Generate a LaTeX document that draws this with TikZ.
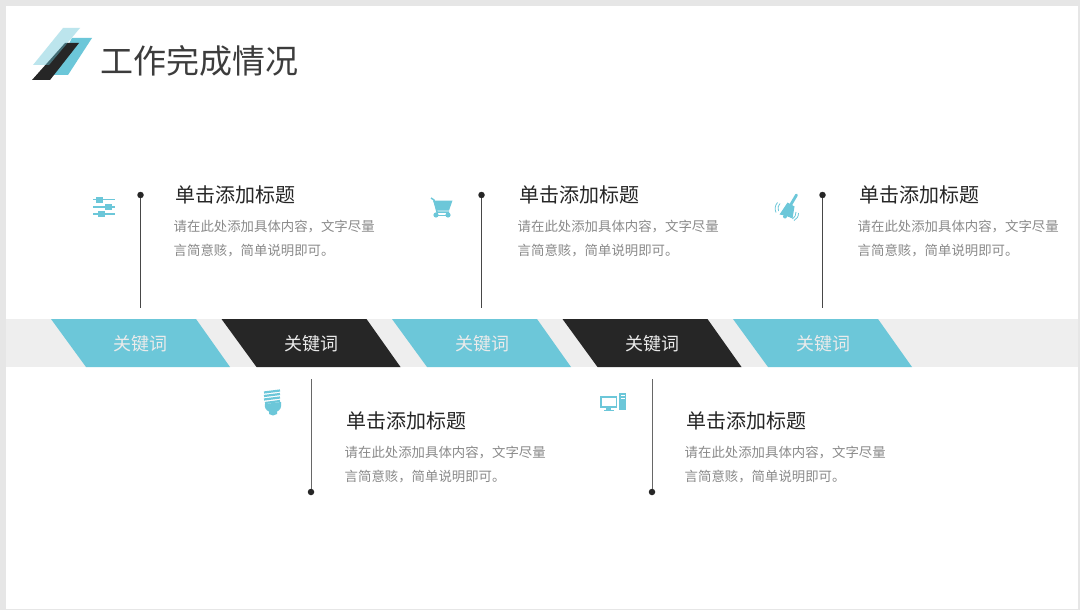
\documentclass[tikz,border=0pt]{standalone}
\usepackage{fontspec}
\setmainfont{Noto Sans CJK SC}
\definecolor{teal}{HTML}{6CC7D9}
\definecolor{ink}{HTML}{262626}
\definecolor{band}{HTML}{EEEEEE}
\definecolor{frame}{HTML}{E6E6E6}
\definecolor{bodygray}{HTML}{8A8A8A}
\begin{document}
\begin{tikzpicture}[x=1pt,y=-1pt,
        vertex/.style={circle,fill=ink,minimum size=6.5pt,inner sep=0pt},
        stem/.style={draw=ink!85,line width=0.9pt},
        keyword/.style={text=white!92!black,font=\fontsize{18}{20}\selectfont},
        heading/.style={anchor=west,text=ink,inner sep=0pt,font=\fontsize{20}{24}\selectfont},
        blurb/.style={anchor=north west,align=left,text=bodygray,inner sep=0pt,font=\fontsize{13.4}{24}\selectfont},
        icon/.style={fill=teal,draw=none}]
    \useasboundingbox (0,0) rectangle (1080,610);

    % Page
    \fill[frame] (0,0) rectangle (1080,610);
    \fill[white] (6,6) rectangle (1078,609);

    % Logo
    \fill[teal] (72,38) -- (92,38) -- (68,75) -- (53,75) -- cycle;
    \fill[ink] (65,43) -- (79,43) -- (50,80) -- (32,80) -- cycle;
    \fill[teal,opacity=0.45] (63,28) -- (80,28) -- (49,65) -- (33,65) -- cycle;
    \node[anchor=west,text=ink!90,inner sep=0pt,font=\fontsize{33}{36}\selectfont] (title) at (100,61) {工作完成情况};

    % Band
    \fill[band] (6,319) rectangle (1078,367);
    \fill[teal] (51,319) -- (196,319) -- (230,367) -- (86,367) -- cycle;
    \fill[ink] (221.5,319) -- (366.5,319) -- (400.5,367) -- (256.5,367) -- cycle;
    \fill[teal] (392,319) -- (537,319) -- (571,367) -- (427,367) -- cycle;
    \fill[ink] (562.5,319) -- (707.5,319) -- (741.5,367) -- (597.5,367) -- cycle;
    \fill[teal] (733,319) -- (878,319) -- (912,367) -- (768,367) -- cycle;
    \node[keyword] (k1) at (140.5,344) {关键词};
    \node[keyword] (k2) at (311,344) {关键词};
    \node[keyword] (k3) at (482,344) {关键词};
    \node[keyword] (k4) at (652,344) {关键词};
    \node[keyword] (k5) at (823,344) {关键词};

    % Upper stems
    \node[vertex] (a) at (140.5,195) {};
    \node[vertex] (b) at (481.5,195) {};
    \node[vertex] (c) at (822.5,195) {};
    \coordinate (a0) at (140.5,308);
    \coordinate (b0) at (481.5,308);
    \coordinate (c0) at (822.5,308);
    \draw[stem] (a) -- (a0);
    \draw[stem] (b) -- (b0);
    \draw[stem] (c) -- (c0);

    % Lower stems
    \node[vertex] (d) at (311,492) {};
    \node[vertex] (e) at (652,492) {};
    \coordinate (d0) at (311,379);
    \coordinate (e0) at (652,379);
    \draw[stem,draw=ink!70] (d0) -- (d);
    \draw[stem,draw=ink!70] (e0) -- (e);

    % Upper texts
    \node[heading] (h1) at (175,194.5) {单击添加标题};
    \node[heading] (h2) at (519,194.5) {单击添加标题};
    \node[heading] (h3) at (859,194.5) {单击添加标题};
    \node[blurb] (t1) at (173.5,220) {请在此处添加具体内容，文字尽量\\言简意赅，简单说明即可。};
    \node[blurb] (t2) at (517.5,220) {请在此处添加具体内容，文字尽量\\言简意赅，简单说明即可。};
    \node[blurb] (t3) at (857.5,220) {请在此处添加具体内容，文字尽量\\言简意赅，简单说明即可。};

    % Lower texts
    \node[heading] (h4) at (346,420.5) {单击添加标题};
    \node[heading] (h5) at (686,420.5) {单击添加标题};
    \node[blurb] (t4) at (344.5,446) {请在此处添加具体内容，文字尽量\\言简意赅，简单说明即可。};
    \node[blurb] (t5) at (684.5,446) {请在此处添加具体内容，文字尽量\\言简意赅，简单说明即可。};

    % Sliders
    \draw[teal,line width=1.7pt] (93,199.5) -- (115,199.5) (93,207) -- (115,207) (93,214) -- (115,214);
    \fill[icon] (96,196.5) rectangle (102.5,202.5);
    \fill[icon] (105,204) rectangle (111.5,210);
    \fill[icon] (98,211) rectangle (104.5,217);

    % Cart
    \draw[teal,line width=1.5pt] (431,198) -- (434,200) -- (437,212) -- (449,212);
    \fill[icon] (433,200.5) -- (452.5,200.5) -- (449,210.5) -- (436.5,210.5) -- cycle;
    \draw[teal,line width=1pt] (436,215) -- (448,215);
    \fill[icon] (436,215) circle (2.6);
    \fill[icon] (448,215) circle (2.6);

    % Bell
    \draw[teal,line width=2.8pt,line cap=round] (796.5,195) -- (790,206);
    \fill[icon] (787.5,202.5) -- (794.5,206.5) -- (792.5,218.5) .. controls (788,216.5) and (784,215) .. (779.5,214.5) -- cycle;
    \fill[icon] (785,216.5) circle (2);
    \draw[teal,line width=0.8pt] (780,203.5) .. controls (778,205.5) and (777.5,208) .. (778.5,211);
    \draw[teal,line width=0.8pt] (777.5,202.5) .. controls (775,205.5) and (774.5,209) .. (776,212.5);
    \draw[teal,line width=0.8pt] (796,212) .. controls (796,215) and (795,217) .. (792.5,219);
    \draw[teal,line width=0.8pt] (798.5,213) .. controls (798.5,216.5) and (797,219) .. (794,220.5);

    % Bulb
    \draw[teal,line width=2.2pt] (264,392.5) -- (280,390.5) (264,396) -- (280,394) (264,399.5) -- (280,397.5) (265,403) -- (280,401);
    \fill[icon] (265,404) -- (281,402) .. controls (282,407) and (280,410.5) .. (277,411.5) -- (277,414) .. controls (274.5,416) and (271.5,416) .. (269,414) -- (269,411.5) .. controls (266,410.5) and (264,407) .. (265,404) -- cycle;

    % Computer
    \draw[teal,line width=1.6pt] (600.8,397) rectangle (616.5,407);
    \fill[icon] (606,408) rectangle (611,410);
    \fill[icon] (603.5,410) rectangle (613.5,411.4);
    \fill[icon] (619,392.5) rectangle (626,409.5);
    \fill[white] (620.5,395) rectangle (624.5,396);
    \fill[white] (620.5,398) rectangle (624.5,399);
\end{tikzpicture}
\end{document}
